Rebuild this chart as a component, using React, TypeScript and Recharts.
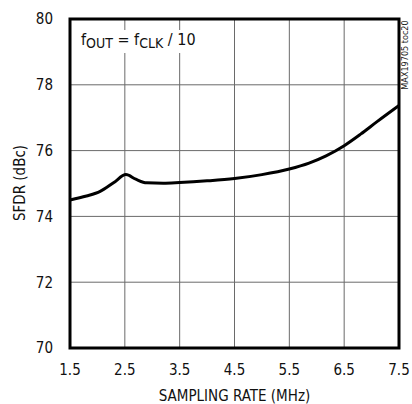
import { LineChart, Line, XAxis, YAxis, CartesianGrid, ReferenceArea } from 'recharts';

const rates = [1.5, 1.8, 2.05, 2.3, 2.52, 2.7, 2.9, 3.2, 3.5, 4.0, 4.5, 5.0, 5.5, 5.86, 6.17, 6.5, 6.8, 7.1, 7.5];
const sfdr = [74.5, 74.62, 74.76, 75.03, 75.27, 75.13, 75.02, 75.01, 75.03, 75.08, 75.15, 75.27, 75.44, 75.62, 75.84, 76.15, 76.5, 76.88, 77.37];
const xTicks = [1.5, 2.5, 3.5, 4.5, 5.5, 6.5, 7.5];
const yTicks = [70, 72, 74, 76, 78, 80];

const data = rates.map((r, i) => ({ rate: r, sfdr: sfdr[i] }));

const font = '"Liberation Sans Narrow", "DejaVu Sans Condensed", Arial, sans-serif';

export default function App() {
  return (
    <div style={{ position: 'relative', width: 412, height: 404, fontFamily: font, background: '#fff' }}>
      <style>{'body{margin:0}'}</style>
      <LineChart width={412} height={404} data={data} margin={{ top: 19, right: 13, bottom: 4, left: 10 }}>
        <CartesianGrid stroke="#6a6a6a" strokeWidth={1} />
        <XAxis
          dataKey="rate"
          type="number"
          domain={[1.5, 7.5]}
          ticks={xTicks}
          tickFormatter={(v: number) => v.toFixed(1)}
          axisLine={false}
          tickLine={false}
          tickMargin={10}
          height={52}
          tick={{ fill: '#111', fontSize: 15, fontFamily: font }}
          label={{ value: 'SAMPLING RATE (MHz)', position: 'insideBottom', offset: -1, fill: '#111', fontSize: 15, fontFamily: font }}
        />
        <YAxis
          type="number"
          domain={[70, 80]}
          ticks={yTicks}
          axisLine={false}
          tickLine={false}
          tickMargin={11}
          width={60}
          tick={{ fill: '#111', fontSize: 15, fontFamily: font }}
        />
        <ReferenceArea x1={1.5} x2={7.5} y1={70} y2={80} fill="none" stroke="#000" strokeWidth={3} fillOpacity={0} />
        <Line
          type="monotone"
          dataKey="sfdr"
          stroke="#000"
          strokeWidth={3}
          dot={false}
          isAnimationActive={false}
        />
      </LineChart>
      <div
        style={{
          position: 'absolute', left: 20, top: 183, transform: 'translate(-50%, -50%) rotate(-90deg)',
          fontSize: 15, color: '#111', whiteSpace: 'nowrap',
        }}
      >
        SFDR (dBc)
      </div>
      <div
        style={{
          position: 'absolute', left: 405, top: 55, transform: 'translate(-50%, -50%) rotate(-90deg)',
          fontSize: 9, color: '#222', whiteSpace: 'nowrap',
        }}
      >
        MAX19705 toc20
      </div>
      <div
        style={{
          position: 'absolute', left: 79, top: 30, background: '#fff', padding: '0 2px',
          fontSize: 16, color: '#111', whiteSpace: 'nowrap', lineHeight: '20px',
        }}
      >
        f<sub style={{ fontSize: 14, verticalAlign: '-3px' }}>OUT</sub> = f<sub style={{ fontSize: 14, verticalAlign: '-3px' }}>CLK</sub> / 10
      </div>
    </div>
  );
}
